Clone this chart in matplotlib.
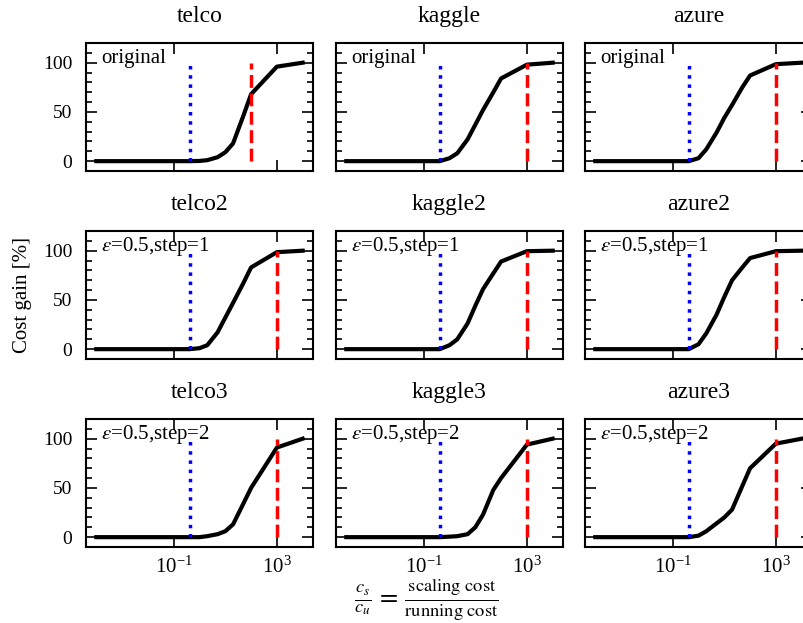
import matplotlib
matplotlib.use("Agg")
import matplotlib.pyplot as plt
from matplotlib.ticker import MultipleLocator, NullLocator

plt.rcParams["font.family"] = "Liberation Serif"
plt.rcParams["mathtext.fontset"] = "stix"

# --- cost ratio c_s / c_u at which the gain was evaluated ---
ratios = [1e-4, 1e-3, 1e-2, 1e-1, 0.42, 1, 2, 5, 10, 20, 50, 100, 1000, 1e4]

datasets = ["telco", "kaggle", "azure"]
suffixes = ["", "2", "3"]
notes = ["original", r"$\varepsilon$=0.5,step=1", r"$\varepsilon$=0.5,step=2"]

# --- cost gain [%] (rows: original, step=1, step=2) ---
telco = [0, 0, 0, 0, 0, 0.2, 1, 4, 9, 18, 46, 68, 96, 100]
kaggle = [0, 0, 0, 0, 0, 3, 8, 22, 37, 52, 70, 84, 98, 100]
azure = [0, 0, 0, 0, 0, 3, 12, 29, 44, 57, 75, 87, 98.5, 100]

telco2 = [0, 0, 0, 0, 0, 1, 4, 17, 32, 47, 67, 83, 98.5, 100]
kaggle2 = [0, 0, 0, 0, 0, 4, 10, 26, 44, 61, 77, 89, 99.5, 100]
azure2 = [0, 0, 0, 0, 0, 5, 16, 35, 53, 70, 83, 92.5, 99.5, 100]

telco3 = [0, 0, 0, 0, 0, 0, 1, 3, 6, 13, 34, 50, 91, 100]
kaggle3 = [0, 0, 0, 0, 0, 0.5, 1, 3, 10, 23, 48, 60, 94, 100]
azure3 = [0, 0, 0, 0, 0, 1.5, 6, 14, 20, 28, 52, 70, 95, 100]

gains = [[telco, kaggle, azure],
         [telco2, kaggle2, azure2],
         [telco3, kaggle3, azure3]]

# vertical markers
blue_ratio = 0.42
red_ratio = [[100, 1000, 1000],
             [1000, 1000, 1000],
             [1000, 1000, 1000]]

# --- layout in pixels ---
W, H = 804, 623
col_left = [86, 336, 585]
row_top = [43, 231, 419]
ax_w, ax_h = 227, 128

fig = plt.figure(figsize=(W / 100, H / 100), dpi=100)

for r in range(3):
    for c in range(3):
        ax = fig.add_axes([col_left[c] / W, 1 - (row_top[r] + ax_h) / H,
                           ax_w / W, ax_h / H])
        ax.plot(ratios, gains[r][c], color="black", lw=3)
        ax.vlines(blue_ratio, 0, 100, colors="blue", linestyles=":", lw=2.5)
        ax.vlines(red_ratio[r][c], 0, 100, colors="red", linestyles="--", lw=2.5)

        ax.set_xscale("log")
        ax.set_xticks([1e-1, 1e3])
        ax.xaxis.set_minor_locator(NullLocator())
        ax.set_ylim(-10, 120)
        ax.set_yticks([0, 50, 100])
        ax.yaxis.set_minor_locator(MultipleLocator(10))
        ax.tick_params(which="both", direction="in", top=True, right=True,
                       labelsize=14, pad=10, width=1.2)
        ax.tick_params(axis="x", labelsize=15, pad=7)
        ax.tick_params(which="major", length=8)
        ax.tick_params(which="minor", length=4)
        for s in ax.spines.values():
            s.set_linewidth(1.5)
        if c > 0:
            ax.tick_params(labelleft=False)
        if r < 2:
            ax.tick_params(labelbottom=False)

        ax.set_title(datasets[c] + suffixes[r], fontsize=17, pad=15)
        ax.text(0.066, 0.842, notes[r], transform=ax.transAxes,
                fontsize=15, va="baseline", ha="left")

        if r == 1 and c == 0:
            ax.set_ylabel("Cost gain [%]", fontsize=15, labelpad=8)

fig.text(426.5 / W, 1 - 600 / H,
         r"$\frac{c_s}{c_u}\,=\,\frac{\mathrm{scaling\ cost}}{\mathrm{running\ cost}}$",
         ha="center", va="center", fontsize=19)

fig.savefig("out.png", dpi=100)
